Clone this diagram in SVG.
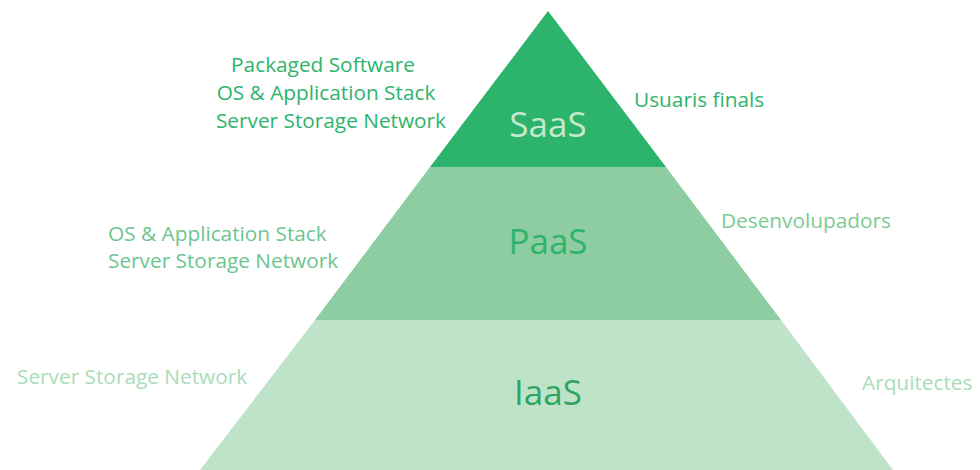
<svg xmlns="http://www.w3.org/2000/svg" width="980" height="470" viewBox="0 0 980 470">
<style>
text{font-family:"Open Sans","Noto Sans","Liberation Sans",sans-serif}
.side{font-size:20.8px}
.lvl{font-size:35px;text-anchor:middle}
</style>
<rect width="980" height="470" fill="#ffffff"/>
<g id="iaas">
<polygon points="315,320 781,320 893,470 200,470" fill="#bfe3c9"/>
<text class="lvl" x="548" y="405" fill="#2ea461">IaaS</text>
</g>
<g id="paas">
<polygon points="430,167 666,167 781,320 315,320" fill="#8dcda1"/>
<text class="lvl" x="548" y="254" fill="#2db46c">PaaS</text>
</g>
<g id="saas">
<polygon points="548,11 666,167 430,167" fill="#2db46c"/>
<text class="lvl" x="548" y="137" fill="#c6e8cf">SaaS</text>
</g>
<g id="saas-left">
<text class="side" x="323" y="72" text-anchor="middle" fill="#2db46c">Packaged Software</text>
<text class="side" x="326" y="100" text-anchor="middle" fill="#2db46c">OS &amp; Application Stack</text>
<text class="side" x="331" y="128" text-anchor="middle" fill="#2db46c">Server Storage Network</text>
</g>
<g id="saas-right">
<text class="side" x="634" y="107" fill="#2db46c">Usuaris finals</text>
</g>
<g id="paas-left">
<text class="side" x="108" y="241" fill="#6cc58f">OS &amp; Application Stack</text>
<text class="side" x="108" y="268" fill="#6cc58f">Server Storage Network</text>
</g>
<g id="paas-right">
<text class="side" x="721" y="228" fill="#7ccb95">Desenvolupadors</text>
</g>
<g id="iaas-left">
<text class="side" x="17" y="384" fill="#a9dcb7">Server Storage Network</text>
</g>
<g id="iaas-right">
<text class="side" x="862" y="390" fill="#a9dcb7">Arquitectes</text>
</g>
<g id="connectors"></g>
</svg>
